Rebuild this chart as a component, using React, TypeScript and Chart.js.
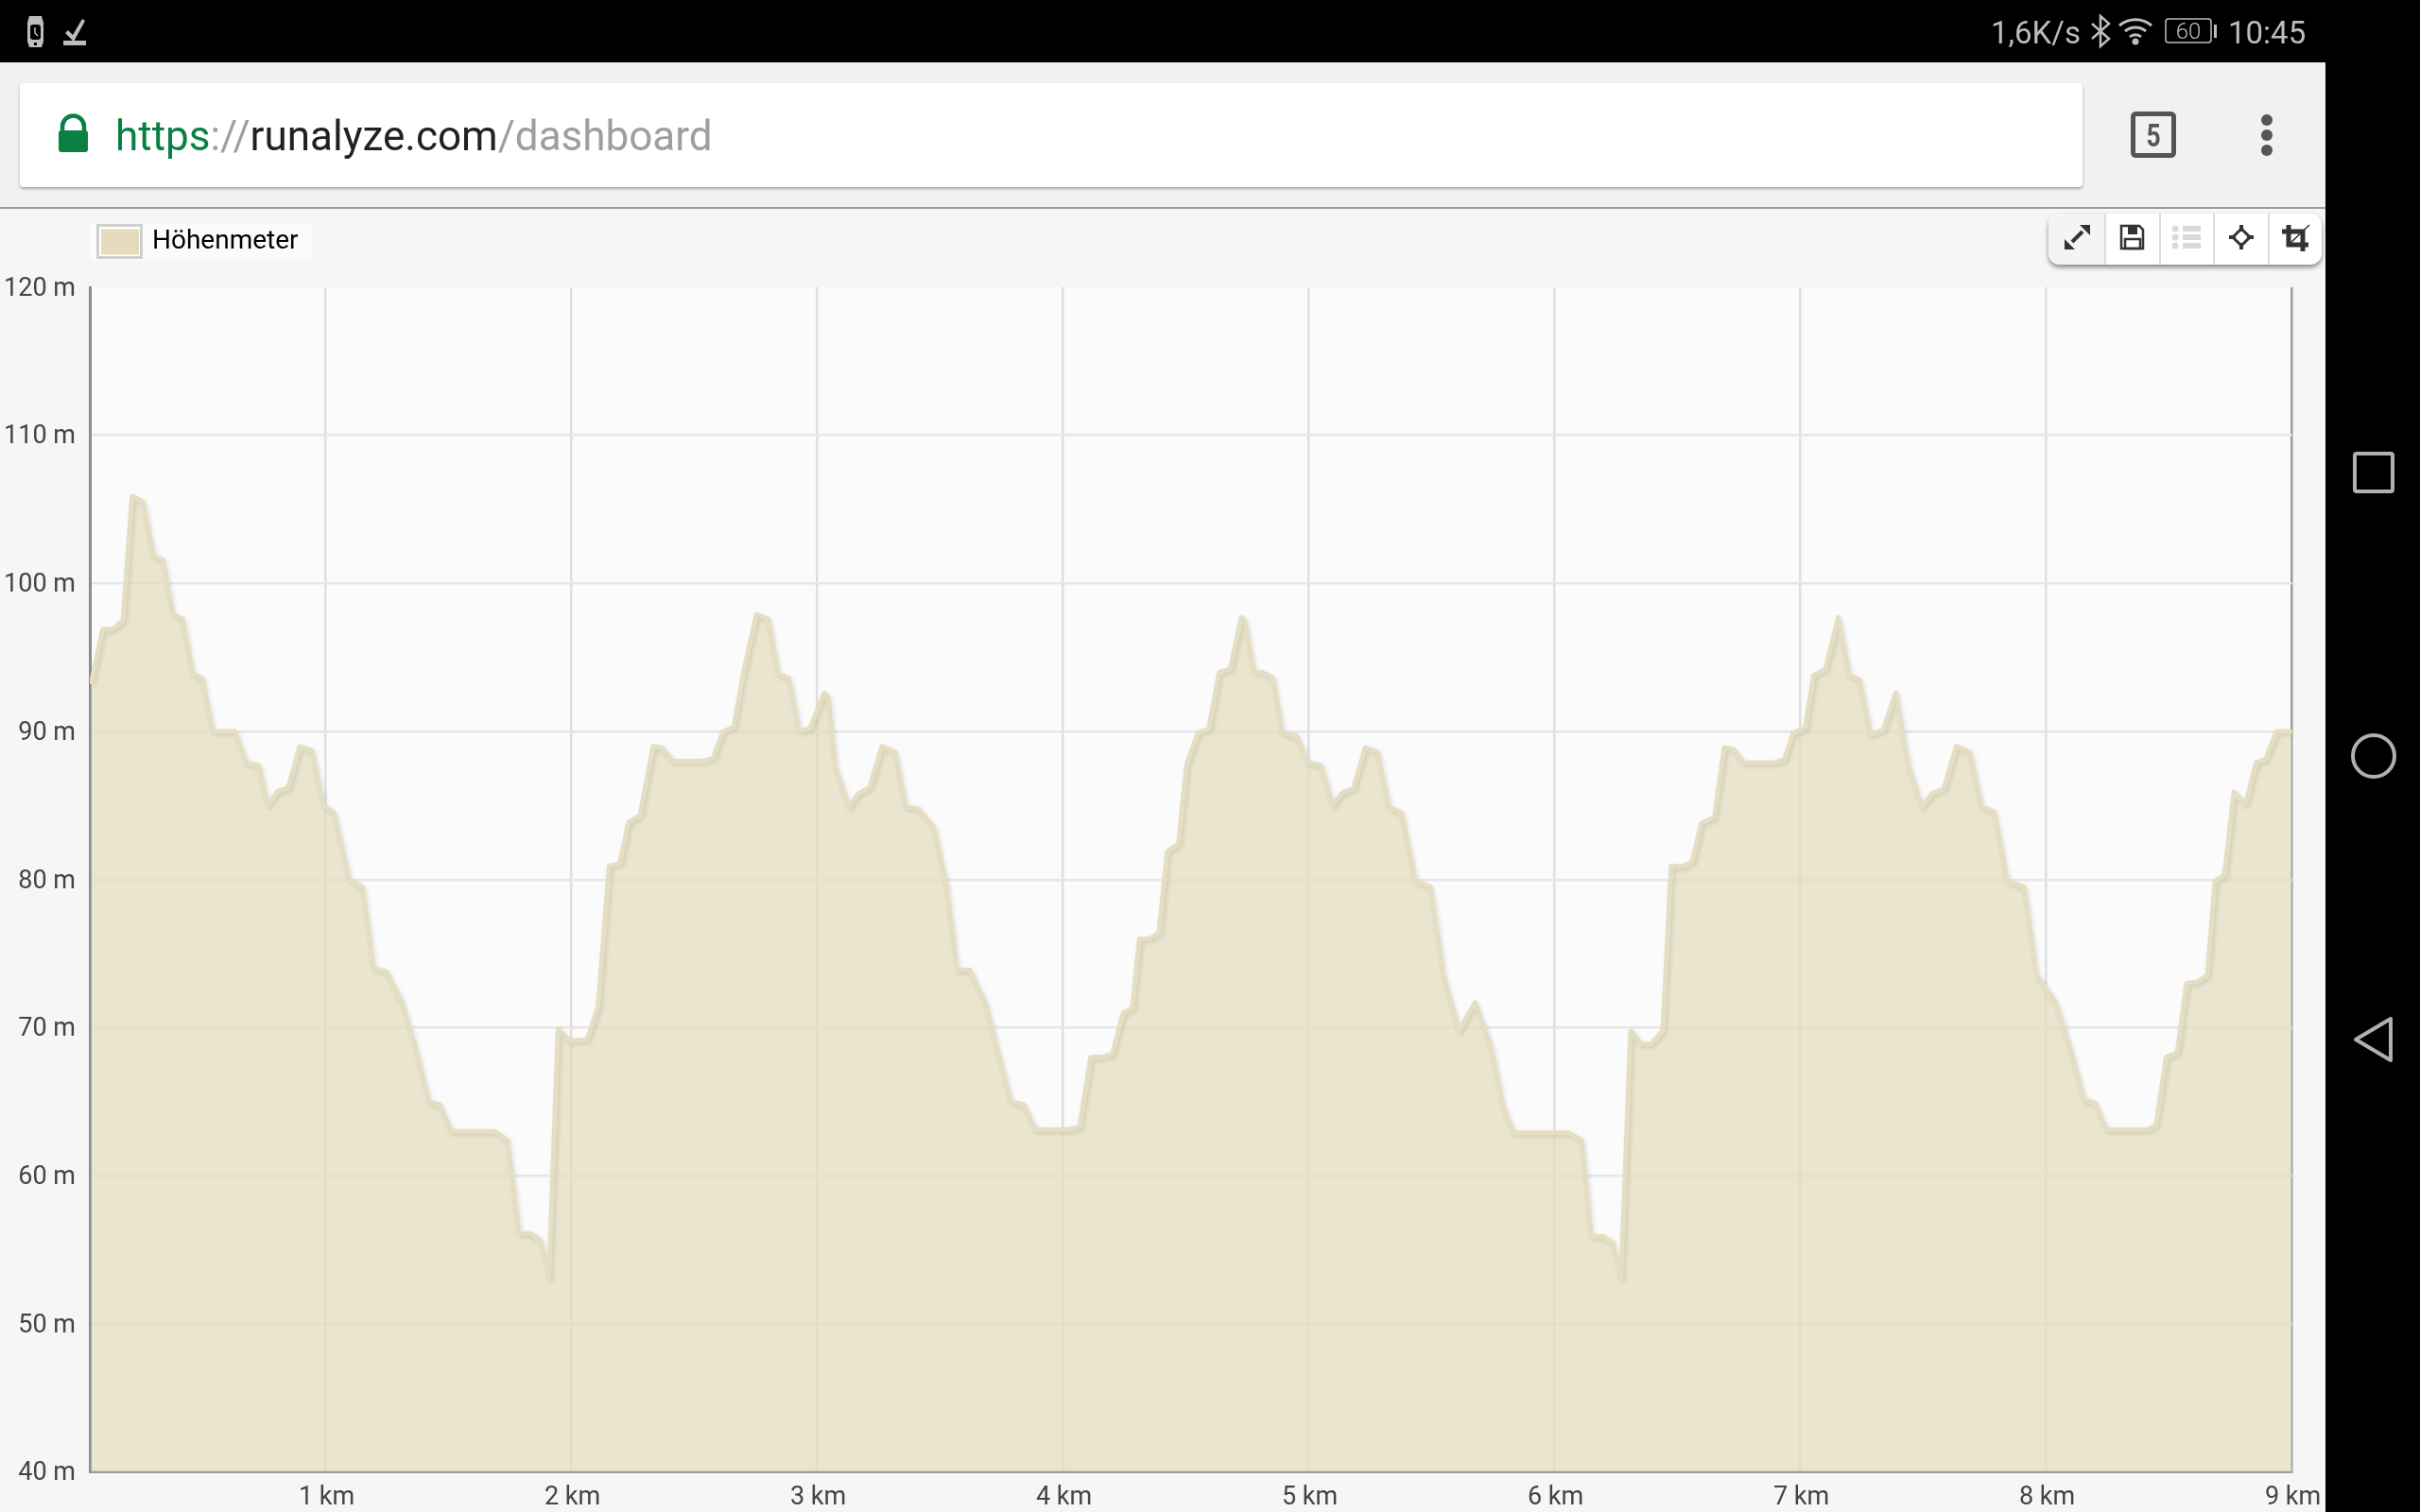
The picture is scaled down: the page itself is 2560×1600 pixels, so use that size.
import React, { useEffect, useRef } from "react";
import { Chart, registerables } from "chart.js";

Chart.register(...registerables);

const seriesName = "Höhenmeter";
const xTickValues = [1, 2, 3, 4, 5, 6, 7, 8, 9];

const distanceKm = [
  0.045, 0.092, 0.134, 0.175, 0.212, 0.256, 0.3, 0.338, 0.378, 0.417, 0.459, 0.498, 0.54, 0.63, 0.677, 0.728, 0.764, 0.806, 0.847, 0.894, 0.944, 0.99,
  1.034, 1.096, 1.149, 1.195, 1.246, 1.31, 1.363, 1.42, 1.465, 1.51, 1.688, 1.739, 1.787, 1.832, 1.875, 1.908, 1.945, 1.994, 2.064, 2.108, 2.153, 2.197, 2.232, 2.278,
  2.332, 2.367, 2.412, 2.531, 2.576, 2.617, 2.66, 2.7, 2.752, 2.8, 2.84, 2.884, 2.926, 2.97, 3.028, 3.045, 3.073, 3.128, 3.167, 3.212, 3.263, 3.317, 3.36, 3.41, 3.475, 3.526, 3.569, 3.62,
  3.685, 3.737, 3.788, 3.84, 3.887, 4.02, 4.067, 4.112, 4.154, 4.2, 4.244, 4.282, 4.31, 4.353, 4.39, 4.424, 4.469, 4.503, 4.549, 4.593, 4.635, 4.68, 4.725, 4.738, 4.777, 4.81, 4.854, 4.892,
  4.95, 4.996, 5.05, 5.097, 5.138, 5.18, 5.229, 5.279, 5.326, 5.377, 5.434, 5.495, 5.547, 5.611, 5.676, 5.74, 5.79, 5.833, 6.055, 6.11, 6.149, 6.197, 6.236,
  6.27, 6.309, 6.352, 6.393, 6.44, 6.474, 6.521, 6.56, 6.596, 6.65, 6.69, 6.727, 6.768, 6.893, 6.935, 6.97, 7.019, 7.054, 7.101, 7.154, 7.199, 7.24, 7.285, 7.336, 7.388, 7.439, 7.494, 7.535,
  7.583, 7.634, 7.689, 7.737, 7.788, 7.842, 7.91, 7.96, 8.038, 8.103, 8.154, 8.2, 8.246, 8.413, 8.447, 8.488, 8.533, 8.571, 8.614, 8.655, 8.687, 8.725, 8.764, 8.811, 8.854, 8.892, 8.937, 9.0,
];

const elevationM = [
  93.2, 96.9, 96.9, 97.5, 105.9, 105.5, 101.8, 101.6, 97.9, 97.6, 93.9, 93.6, 90, 90, 87.9, 87.7, 85, 86, 86.2, 89, 88.7, 85,
  84.5, 80, 79.5, 74, 73.8, 71.7, 68.8, 65, 64.8, 63, 63, 62.4, 56.1, 56.1, 55.6, 53.1, 69.9, 69.1, 69.2, 71.4, 80.9, 81.1, 83.9, 84.3,
  89, 88.9, 88, 88, 88.2, 90, 90.3, 94, 97.9, 97.6, 93.9, 93.6, 90, 90.2, 92.6, 92.3, 87.6, 84.9, 85.8, 86.2, 89, 88.6, 84.9, 84.8, 83.5, 79.5, 73.9, 73.9,
  71.6, 68.2, 65, 64.8, 63.1, 63.1, 63.3, 68, 68, 68.2, 71, 71.3, 76, 76, 76.4, 81.9, 82.4, 87.8, 89.9, 90.2, 94, 94.2, 97.7, 97.5, 94, 94, 93.6, 89.9,
  89.7, 87.9, 87.7, 85, 85.9, 86.1, 88.9, 88.6, 84.9, 84.5, 79.9, 79.5, 73.6, 69.8, 71.7, 68.8, 64.7, 62.9, 62.9, 62.4, 55.9, 55.9, 55.5,
  53.1, 69.8, 68.9, 68.9, 69.8, 80.9, 80.9, 81.2, 83.8, 84.2, 88.9, 88.8, 87.9, 87.9, 88.1, 89.9, 90.2, 93.8, 94.2, 97.7, 93.8, 93.5, 89.8, 90.1, 92.6, 87.7, 84.9, 85.8,
  86.1, 89, 88.6, 84.9, 84.6, 79.9, 79.5, 73.6, 71.7, 68.3, 65.1, 64.9, 63.1, 63.1, 63.4, 68, 68.3, 73, 73.1, 73.5, 79.9, 80.3, 85.9, 85.1, 87.9, 88.1, 90, 90,
];

const FONT = "Roboto, sans-serif";
const LINE = "#e4dec2";
const FILL = "rgba(227,220,188,0.72)";

const CANVAS_TOP = 222;
const CANVAS_W = 2460;
const CANVAS_H = 1378;

const chartDecor = {
  id: "chartDecor",
  afterLayout(chart: any) {
    const l = chart.legend;
    if (l) {
      l.left = 107;
      l.right = 330;
      l.top = 20;
      l.bottom = 56;
    }
  },
  beforeDraw(chart: any) {
    const { ctx, chartArea: a } = chart;
    ctx.save();
    ctx.fillStyle = "#fbfbfc";
    ctx.fillRect(a.left, a.top, a.right - a.left, a.bottom - a.top);
    ctx.restore();
  },
  beforeDatasetDraw(chart: any) {
    const { ctx } = chart;
    ctx.save();
    ctx.shadowColor = "rgba(0,0,0,0.1)";
    ctx.shadowBlur = 4;
    ctx.shadowOffsetX = 2;
    ctx.shadowOffsetY = 2;
  },
  afterDatasetDraw(chart: any) {
    chart.ctx.restore();
  },
};

function ElevationChart() {
  const ref = useRef<HTMLCanvasElement>(null);
  useEffect(() => {
    const chart = new Chart(ref.current as HTMLCanvasElement, {
      type: "line",
      data: {
        datasets: [
          {
            label: seriesName,
            data: distanceKm.map((x, i) => ({ x, y: elevationM[i] })),
            borderColor: LINE,
            backgroundColor: FILL,
            borderWidth: 5,
            fill: "origin",
            tension: 0,
            pointRadius: 0,
            borderJoinStyle: "round",
          },
        ],
      },
      options: {
        animation: false,
        responsive: false,
        devicePixelRatio: 1,
        layout: { padding: { left: 0, top: 82, right: 35.4, bottom: 0 } },
        plugins: {
          tooltip: { enabled: false },
          legend: {
            display: true,
            position: "chartArea",
            align: "start",
            labels: {
              boxWidth: 40,
              boxHeight: 27,
              padding: 0,
              color: "#444444",
              font: { family: FONT, size: 28 },
              generateLabels: (c: any) => [
                {
                  text: c.data.datasets[0].label,
                  fillStyle: "#e4dcbc",
                  strokeStyle: "rgba(0,0,0,0)",
                  lineWidth: 0,
                  hidden: false,
                  datasetIndex: 0,
                },
              ],
            },
          },
        },
        scales: {
          x: {
            type: "linear",
            min: 0.04,
            max: 9,
            afterBuildTicks: (axis: any) => {
              axis.ticks = xTickValues.map((value) => ({ value }));
            },
            afterFit: (axis: any) => {
              axis.height = 42.4;
              axis.paddingLeft = 0;
              axis.paddingRight = 0;
            },
            border: { color: "#9a9a9a", width: 3 },
            grid: {
              color: (c: any) => (c.tick && c.tick.value === 9 ? "#9c9c9c" : "#dfdfe1"),
              lineWidth: 2.5,
              drawTicks: false,
            },
            ticks: {
              autoSkip: false,
              maxRotation: 0,
              padding: 11,
              labelOffset: 1,
              color: "#444444",
              font: { family: FONT, size: 27 },
              callback: (v: any) => `${v} km`,
            },
          },
          y: {
            min: 40,
            max: 120,
            afterFit: (axis: any) => {
              axis.width = 95;
            },
            border: { color: "#8c8c8c", width: 3 },
            grid: {
              color: (c: any) => (c.tick && c.tick.value === 120 ? "rgba(0,0,0,0)" : "#e6e6e7"),
              lineWidth: 2.5,
              drawTicks: false,
            },
            ticks: {
              stepSize: 10,
              padding: 15,
              labelOffset: 2,
              color: "#444444",
              font: { family: FONT, size: 27 },
              callback: (v: any) => `${v} m`,
            },
          },
        },
      },
      plugins: [chartDecor],
    } as any);
    return () => chart.destroy();
  }, []);
  return (
    <canvas
      ref={ref}
      width={CANVAS_W}
      height={CANVAS_H}
      style={{ position: "absolute", left: 0, top: CANVAS_TOP, width: CANVAS_W, height: CANVAS_H }}
    />
  );
}

const box = (s: React.CSSProperties): React.CSSProperties => ({ position: "absolute", boxSizing: "border-box", ...s });

function Backdrop() {
  return (
    <>
      <div style={box({ left: 0, top: 0, width: 2560, height: 1600, background: "#f6f6f6" })} />
      <div style={box({ left: 0, top: 66, width: 2460, height: 154, background: "#f1f1f1" })} />
      <div style={box({ left: 0, top: 219, width: 2460, height: 2, background: "#9c9c9c" })} />
      <div
        style={box({
          left: 21,
          top: 88,
          width: 2182,
          height: 110,
          background: "#ffffff",
          borderRadius: 4,
          boxShadow: "0 2px 3px rgba(0,0,0,0.3)",
        })}
      />
      <div style={box({ left: 96, top: 237, width: 234, height: 38, background: "#fbfbfb" })} />
      <div style={box({ left: 102, top: 237, width: 49, height: 37, background: "#ffffff", border: "3px solid #cfcfcf" })} />
      <div style={box({ left: 2460, top: 0, width: 100, height: 1600, background: "#000000" })} />
      <div style={box({ left: 0, top: 0, width: 2560, height: 66, background: "#000000" })} />
    </>
  );
}

function Toolbar() {
  return (
    <div
      style={box({
        left: 2167,
        top: 226,
        width: 289,
        height: 54,
        background: "#ffffff",
        borderRadius: 12,
        boxShadow: "0 3px 5px rgba(0,0,0,0.45)",
        overflow: "hidden",
      })}
    >
      <div style={box({ left: 0, top: 0, width: 59, height: 54, background: "#f4f4f4" })} />
      {[59, 117, 174, 232].map((x) => (
        <div key={x} style={box({ left: x, top: 0, width: 2, height: 54, background: "#dcdcdc" })} />
      ))}
    </div>
  );
}

function Overlay() {
  const grey = "#bdbdbd";
  const ink = "#333333";
  return (
    <svg width={2560} height={1600} style={{ position: "absolute", left: 0, top: 0, pointerEvents: "none" }}>
      {/* status bar left icons */}
      <g fill={grey}>
        <path d="M31 17h13l2 7v20l-2 6H31l-2-6V24z" />
        <rect x="32" y="26" width="11" height="16" rx="3" fill="#000" />
        <path d="M37 29v6l3 3" stroke={grey} strokeWidth="1.5" fill="none" />
        <rect x="36" y="45" width="3" height="3" fill="#000" />
        <path d="M72 32l5 5 10-17 3 2-12 22-9-9z" />
        <rect x="67" y="43" width="24" height="5" />
      </g>
      {/* status bar right */}
      <text x="2106" y="46" fontFamily={FONT} fontSize="33" fill={grey}>1,6K/s</text>
      <path d="M2213 25l18 16-9 8V17l9 8-18 16" fill="none" stroke={grey} strokeWidth="2.5" />
      <g fill="none" stroke={grey} strokeWidth="3">
        <path d="M2242 27a26 26 0 0 1 34 0" />
        <path d="M2248 33a17 17 0 0 1 22 0" />
        <path d="M2253 39a9 9 0 0 1 12 0" />
      </g>
      <circle cx="2259" cy="44" r="3.5" fill={grey} />
      <rect x="2291" y="20" width="48" height="25" rx="3" fill="none" stroke={grey} strokeWidth="1.5" />
      <text x="2315" y="41" textAnchor="middle" fontFamily={FONT} fontWeight={300} fontSize="24" fill={grey}>60</text>
      <rect x="2342" y="26" width="3" height="14" fill={grey} />
      <text x="2357" y="46" fontFamily={FONT} fontSize="33" fill={grey}>10:45</text>

      {/* address bar */}
      <path d="M66 140v-6a11 11 0 0 1 23 0v6" fill="none" stroke="#0b8043" strokeWidth="4.5" />
      <rect x="62" y="138" width="31" height="23" rx="3" fill="#0b8043" />
      <text x="122" y="159" fontFamily={FONT} fontSize="44">
        <tspan fill="#0b8043">https</tspan>
        <tspan fill="#9e9e9e">://</tspan>
        <tspan fill="#212121">runalyze.com</tspan>
        <tspan fill="#9e9e9e">/dashboard</tspan>
      </text>
      <rect x="2256.5" y="120.5" width="43" height="44" rx="3" fill="none" stroke="#555555" strokeWidth="5" />
      <text transform="translate(2278 155) scale(0.8 1)" textAnchor="middle" fontFamily={FONT} fontWeight={700} fontSize="33" fill="#555555">5</text>
      <g fill="#555555">
        <circle cx="2398" cy="127" r="6" />
        <circle cx="2398" cy="143" r="6" />
        <circle cx="2398" cy="159" r="6" />
      </g>

      {/* toolbar icons */}
      <g fill={ink} stroke={ink}>
        <path d="M2192 256l11-11" strokeWidth="4" fill="none" />
        <path d="M2200 238h11v11zM2184 253l11 11h-11z" stroke="none" />
        <path d="M2244 239h19l4 4v20h-23z" fill="none" strokeWidth="2.5" />
        <rect x="2251" y="239" width="10" height="9" stroke="none" />
        <rect x="2248" y="253" width="16" height="10" fill="none" strokeWidth="2.5" />
        <path d="M2371 242l9 9-9 9-9-9z" fill="none" strokeWidth="3" />
        <path d="M2371 238v7M2371 257v7M2358 251h7M2377 251h7" strokeWidth="4" fill="none" />
        <path d="M2421 238v21h21M2414 245h22v21" fill="none" strokeWidth="5" />
        <path d="M2421 259l22-21" strokeWidth="1.5" fill="none" />
      </g>
      <g fill="#dadada">
        <circle cx="2301" cy="242" r="3.5" />
        <circle cx="2301" cy="251" r="3.5" />
        <circle cx="2301" cy="260" r="3.5" />
        <rect x="2309" y="239" width="19" height="6" />
        <rect x="2309" y="248" width="19" height="6" />
        <rect x="2309" y="257" width="19" height="6" />
      </g>

      {/* android nav */}
      <g fill="none" stroke="#b0b0b0" strokeWidth="4" strokeLinejoin="round">
        <rect x="2491" y="480" width="40" height="40" rx="2" />
        <circle cx="2511" cy="800" r="22" />
        <path d="M2529 1078v44l-37-22z" />
      </g>
    </svg>
  );
}

export default function App() {
  return (
    <div style={{ position: "fixed", left: 0, top: 0, width: 2560, height: 1600, overflow: "hidden" }}>
      <Backdrop />
      <ElevationChart />
      <Toolbar />
      <Overlay />
    </div>
  );
}
